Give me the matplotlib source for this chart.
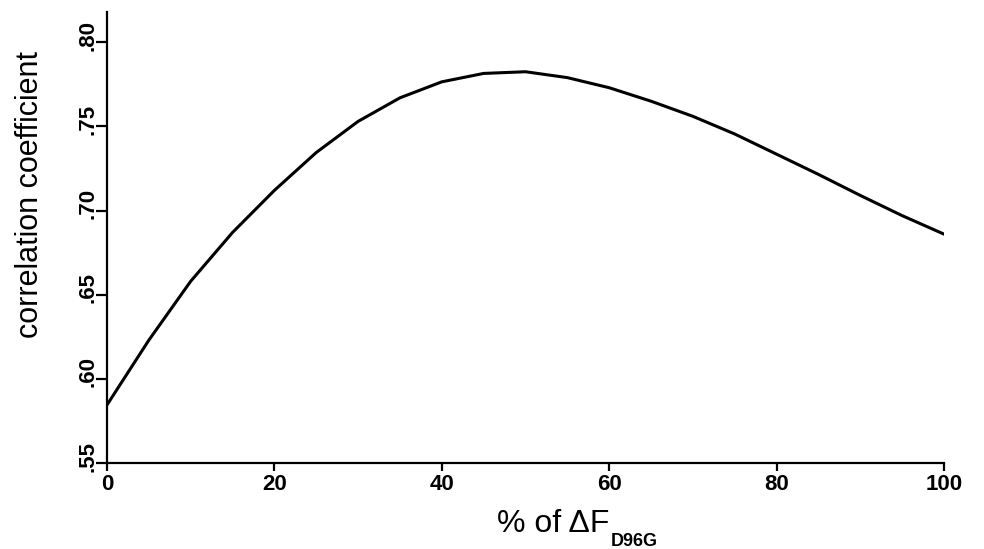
import matplotlib
matplotlib.use("Agg")
import matplotlib.pyplot as plt
from matplotlib.transforms import ScaledTranslation

# Data
pct = [0, 5, 10, 15, 20, 25, 30, 35, 40, 45, 50, 55, 60, 65, 70, 75, 80, 85, 90, 95, 100]
corr = [0.5845, 0.623, 0.658, 0.687, 0.712, 0.7345, 0.753, 0.767, 0.7765, 0.7815,
        0.7825, 0.779, 0.773, 0.765, 0.756, 0.7455, 0.7335, 0.7215, 0.709, 0.697, 0.686]
xticks = [0, 20, 40, 60, 80, 100]
yticks = [0.55, 0.60, 0.65, 0.70, 0.75, 0.80]
yticklabels = [".55", ".60", ".65", ".70", ".75", ".80"]

fig = plt.figure(figsize=(9.84, 5.49), dpi=100)
ax = fig.add_axes([107/984, 1 - 463/549, (944 - 107)/984, (463 - 12)/549])

ax.plot(pct, corr, color="black", lw=2.2, solid_joinstyle="round",
        solid_capstyle="round")

ax.set_xlim(0, 100)
ax.set_ylim(0.55, 0.818)
for s in ["top", "right"]:
    ax.spines[s].set_visible(False)
for s in ["left", "bottom"]:
    ax.spines[s].set_linewidth(1.6)
    ax.spines[s].set_color("black")

ax.set_xticks(xticks)
ax.set_xticklabels([str(v) for v in xticks], fontfamily="Liberation Sans",
                   fontweight="bold", fontsize=16)
ax.set_yticks(yticks)
ax.set_yticklabels(yticklabels, fontfamily="Liberation Sans", fontweight="bold",
                   fontsize=16, rotation=90, va="center")
ax.tick_params(axis="x", direction="out", length=6, width=1.6, pad=2)
ax.tick_params(axis="y", direction="out", length=8, width=1.6, pad=-2)
off = ScaledTranslation(0, 7/100, fig.dpi_scale_trans)
for lab in ax.get_yticklabels():
    lab.set_transform(lab.get_transform() + off)

fig.text(30/984, 1 - 195/549, "correlation coefficient", rotation=90,
         ha="center", va="center", fontfamily="Liberation Sans", fontsize=22)

fig.text(497/984, 1 - 532/549, "% of ΔF", ha="left", va="baseline",
         fontfamily="Liberation Sans", fontsize=23)
fig.text(611/984, 1 - 546/549, "D96G", ha="left", va="baseline",
         fontfamily="Liberation Sans", fontweight="bold", fontsize=13)

fig.savefig("out.png", dpi=100)
